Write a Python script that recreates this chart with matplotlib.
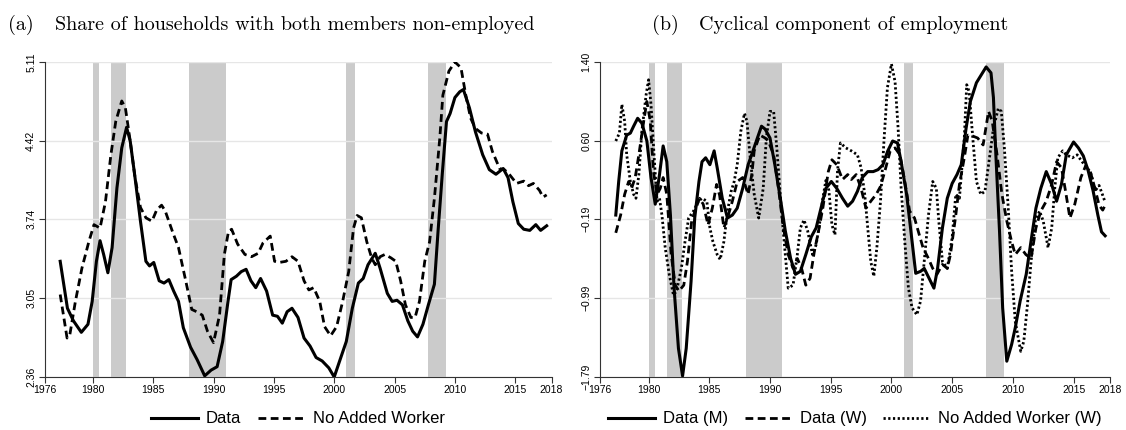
"""Household non-employment and cyclical employment, two panels."""
import numpy as np
import matplotlib
matplotlib.use('Agg')
import matplotlib.pyplot as plt

# ------------------------------------------------------------
# Data
# ------------------------------------------------------------
recessions = [(1980.0, 1980.5), (1981.5, 1982.75), (1988.0, 1991.0),
              (2001.0, 2001.75), (2007.75, 2009.25)]

# Panel (a): share of households with both members non-employed
a_data_year = [1977.3, 1977.9, 1978.4, 1979.05, 1979.6, 1979.95, 1980.3, 1980.6, 1980.9, 1981.25,
               1981.6, 1982.0, 1982.4, 1982.8, 1983.1, 1983.5, 1983.95, 1984.4, 1984.7, 1985.05,
               1985.5, 1985.9, 1986.3, 1986.7, 1987.1, 1987.5, 1988.1, 1988.65, 1989.27, 1989.8,
               1990.3, 1990.76, 1991.2, 1991.46, 1991.9, 1992.3, 1992.7, 1993.1, 1993.5, 1993.9,
               1994.4, 1994.9, 1995.3, 1995.7, 1996.1, 1996.5, 1997.0, 1997.5, 1998.0, 1998.5,
               1999.0, 1999.55, 2000.0, 2000.45, 2001.0, 2001.5, 2002.0, 2002.4, 2002.8, 2003.4,
               2003.8, 2004.4, 2004.8, 2005.2, 2005.65, 2006.1, 2006.5, 2006.9, 2007.35, 2007.8,
               2008.3, 2008.6, 2008.95, 2009.3, 2009.6, 2010.0, 2010.4, 2010.7, 2011.2, 2011.7,
               2012.3, 2012.85, 2013.4, 2014.0, 2014.4, 2014.8, 2015.25, 2015.7, 2016.2, 2016.7,
               2017.1, 2017.6]
a_data_val = [3.37, 2.96, 2.85, 2.75, 2.82, 3.02, 3.37, 3.55, 3.43, 3.27,
              3.49, 4.01, 4.36, 4.54, 4.42, 4.10, 3.72, 3.37, 3.33, 3.36,
              3.20, 3.18, 3.21, 3.11, 3.02, 2.79, 2.62, 2.51, 2.37, 2.42,
              2.45, 2.67, 3.02, 3.21, 3.24, 3.28, 3.30, 3.20, 3.14, 3.22,
              3.11, 2.90, 2.89, 2.83, 2.93, 2.96, 2.88, 2.70, 2.63, 2.53,
              2.50, 2.44, 2.36, 2.50, 2.67, 2.96, 3.18, 3.22, 3.34, 3.44,
              3.31, 3.09, 3.02, 3.03, 2.99, 2.85, 2.76, 2.71, 2.82, 2.99,
              3.17, 3.63, 4.13, 4.59, 4.66, 4.80, 4.85, 4.87, 4.71, 4.50,
              4.30, 4.17, 4.13, 4.18, 4.10, 3.89, 3.70, 3.65, 3.64, 3.69,
              3.64, 3.68]

a_naw_year = [1977.3, 1977.87, 1978.1, 1978.56, 1979.1, 1979.67, 1980.1, 1980.6, 1981.05, 1981.5,
              1981.9, 1982.4, 1982.7, 1983.1, 1983.5, 1983.95, 1984.4, 1984.9, 1985.3, 1985.7,
              1986.0, 1986.6, 1987.1, 1987.7, 1988.2, 1988.6, 1989.07, 1989.5, 1990.0, 1990.5,
              1990.9, 1991.24, 1991.5, 1992.0, 1992.6, 1993.15, 1993.7, 1994.1, 1994.7, 1995.06,
              1995.45, 1996.0, 1996.5, 1997.0, 1997.5, 1997.9, 1998.3, 1998.8, 1999.2, 1999.7,
              2000.2, 2000.7, 2001.2, 2001.6, 2001.9, 2002.25, 2002.7, 2003.1, 2003.4, 2003.8,
              2004.2, 2004.7, 2005.1, 2005.5, 2005.9, 2006.35, 2006.7, 2007.06, 2007.5, 2007.9,
              2008.3, 2008.75, 2009.0, 2009.5, 2010.0, 2010.5, 2010.9, 2011.3, 2011.7, 2012.2,
              2012.7, 2013.1, 2013.7, 2014.1, 2014.5, 2015.1, 2015.7, 2016.1, 2016.5, 2017.0,
              2017.3, 2017.6]
a_naw_val = [3.08, 2.70, 2.73, 3.02, 3.31, 3.54, 3.69, 3.66, 3.89, 4.30,
             4.59, 4.77, 4.71, 4.42, 4.10, 3.84, 3.75, 3.72, 3.82, 3.86,
             3.81, 3.63, 3.49, 3.20, 2.95, 2.93, 2.90, 2.76, 2.66, 2.90,
             3.43, 3.63, 3.65, 3.52, 3.43, 3.41, 3.44, 3.53, 3.59, 3.37,
             3.36, 3.37, 3.41, 3.37, 3.20, 3.12, 3.14, 3.02, 2.80, 2.72,
             2.80, 3.02, 3.28, 3.66, 3.77, 3.75, 3.54, 3.40, 3.34, 3.41,
             3.43, 3.40, 3.37, 3.20, 2.99, 2.88, 2.88, 3.02, 3.37, 3.54,
             3.92, 4.45, 4.82, 5.03, 5.11, 5.06, 4.82, 4.62, 4.53, 4.49,
             4.48, 4.33, 4.18, 4.17, 4.13, 4.05, 4.07, 4.03, 4.05, 3.99,
             3.93, 3.95]

# Panel (b): cyclical component of employment
b_m_year = [1977.3, 1977.54, 1977.8, 1978.2, 1978.5, 1978.77, 1979.1, 1979.45, 1979.86, 1980.2,
            1980.55, 1980.9, 1981.2, 1981.5, 1981.8, 1982.1, 1982.46, 1982.8, 1983.1, 1983.5,
            1983.8, 1984.15, 1984.4, 1984.7, 1985.05, 1985.4, 1985.65, 1986.07, 1986.5, 1986.9,
            1987.3, 1987.75, 1988.2, 1988.6, 1988.96, 1989.3, 1989.6, 1990.0, 1990.4, 1990.85,
            1991.26, 1991.7, 1992.1, 1992.5, 1992.95, 1993.4, 1993.8, 1994.2, 1994.6, 1995.05,
            1995.5, 1995.97, 1996.4, 1996.8, 1997.2, 1997.6, 1998.05, 1998.5, 1998.9, 1999.3,
            1999.7, 2000.1, 2000.5, 2000.8, 2001.25, 2001.6, 2002.0, 2002.4, 2002.7, 2003.1,
            2003.5, 2003.8, 2004.2, 2004.6, 2005.0, 2005.4, 2005.75, 2006.15, 2006.5, 2007.0,
            2007.4, 2007.8, 2008.2, 2008.4, 2008.6, 2008.9, 2009.16, 2009.5, 2009.9, 2010.2,
            2010.6, 2011.1, 2011.5, 2011.9, 2012.3, 2012.75, 2013.2, 2013.6, 2014.0, 2014.4,
            2015.0, 2015.4, 2015.8, 2016.2, 2016.6, 2017.0, 2017.3, 2017.6]
b_m_val = [-0.15, 0.19, 0.50, 0.66, 0.68, 0.75, 0.83, 0.78, 0.60, 0.23,
           -0.04, 0.26, 0.55, 0.39, -0.15, -0.89, -1.50, -1.78, -1.50, -0.82,
           -0.18, 0.19, 0.39, 0.43, 0.36, 0.50, 0.33, 0.02, -0.18, -0.15,
           -0.08, 0.12, 0.36, 0.50, 0.63, 0.75, 0.72, 0.63, 0.36, 0.02,
           -0.31, -0.59, -0.75, -0.72, -0.55, -0.37, -0.28, -0.08, 0.12, 0.19,
           0.12, 0.02, -0.06, -0.01, 0.09, 0.23, 0.29, 0.29, 0.31, 0.36,
           0.50, 0.60, 0.58, 0.39, 0.06, -0.31, -0.74, -0.72, -0.69, -0.79,
           -0.89, -0.69, -0.28, 0.02, 0.17, 0.26, 0.36, 0.73, 1.00, 1.19,
           1.27, 1.35, 1.29, 1.04, 0.46, -0.31, -1.09, -1.63, -1.46, -1.29,
           -1.02, -0.75, -0.41, -0.08, 0.12, 0.29, 0.16, -0.01, 0.16, 0.46,
           0.59, 0.53, 0.45, 0.30, 0.10, -0.15, -0.32, -0.36]

b_w_year = [1977.3, 1977.7, 1978.03, 1978.36, 1978.6, 1978.9, 1979.2, 1979.6, 1979.86, 1980.14,
            1980.4, 1980.7, 1980.96, 1981.2, 1981.5, 1981.86, 1982.2, 1982.5, 1982.9, 1983.2,
            1983.55, 1983.9, 1984.2, 1984.5, 1984.9, 1985.25, 1985.6, 1985.85, 1986.2, 1986.5,
            1986.9, 1987.3, 1987.75, 1988.2, 1988.5, 1988.7, 1989.16, 1989.6, 1989.86, 1990.3,
            1990.7, 1991.1, 1991.5, 1991.9, 1992.25, 1992.6, 1992.95, 1993.3, 1993.65, 1994.0,
            1994.35, 1994.8, 1995.1, 1995.5, 1995.97, 1996.4, 1996.7, 1997.1, 1997.5, 1997.9,
            1998.3, 1998.75, 1999.1, 1999.45, 1999.9, 2000.3, 2000.7, 2001.1, 2001.5, 2001.9,
            2002.2, 2002.6, 2003.05, 2003.4, 2003.75, 2004.2, 2004.6, 2004.86, 2005.3, 2005.6,
            2006.0, 2006.3, 2006.7, 2007.1, 2007.55, 2008.0, 2008.3, 2008.7, 2009.1, 2009.5,
            2009.9, 2010.2, 2010.65, 2011.07, 2011.5, 2011.9, 2012.3, 2012.75, 2013.2, 2013.6,
            2014.0, 2014.3, 2014.7, 2015.1, 2015.6, 2016.0, 2016.4, 2016.8, 2017.1, 2017.4,
            2017.6]
b_w_val = [-0.33, -0.15, 0.06, 0.19, 0.12, 0.23, 0.46, 0.80, 1.00, 0.80,
           0.29, 0.06, 0.12, 0.23, 0.06, -0.55, -0.86, -0.92, -0.86, -0.62,
           -0.21, -0.08, 0.02, -0.04, -0.25, -0.08, 0.16, 0.05, -0.28, -0.18,
           -0.01, 0.19, 0.23, 0.06, 0.26, 0.50, 0.66, 0.63, 0.60, 0.46,
           0.12, -0.28, -0.55, -0.69, -0.59, -0.69, -0.86, -0.79, -0.52, -0.31,
           -0.08, 0.29, 0.41, 0.36, 0.21, 0.26, 0.21, 0.26, 0.12, -0.08,
           -0.01, 0.06, 0.14, 0.29, 0.50, 0.53, 0.46, 0.19, -0.11, -0.18,
           -0.31, -0.48, -0.59, -0.69, -0.75, -0.65, -0.69, -0.55, -0.15, 0.16,
           0.43, 0.66, 0.65, 0.63, 0.56, 0.90, 0.80, 0.46, 0.06, -0.21,
           -0.42, -0.55, -0.48, -0.55, -0.59, -0.28, -0.11, -0.01, 0.16, 0.39,
           0.33, 0.12, -0.18, -0.04, 0.23, 0.35, 0.28, 0.10, -0.05, -0.10,
           -0.05]

b_naw_year = [1977.3, 1977.6, 1977.8, 1978.03, 1978.2, 1978.5, 1978.77, 1978.96, 1979.2, 1979.45,
              1979.8, 1980.0, 1980.2, 1980.5, 1980.7, 1980.9, 1981.1, 1981.37, 1981.7, 1982.05,
              1982.3, 1982.7, 1983.0, 1983.3, 1983.7, 1984.1, 1984.4, 1984.8, 1985.05, 1985.3,
              1985.65, 1985.9, 1986.2, 1986.5, 1986.8, 1987.05, 1987.3, 1987.6, 1987.9, 1988.1,
              1988.4, 1988.7, 1989.07, 1989.44, 1989.7, 1990.0, 1990.3, 1990.56, 1990.9, 1991.26,
              1991.5, 1991.9, 1992.25, 1992.5, 1992.8, 1993.1, 1993.5, 1993.8, 1994.07, 1994.35,
              1994.6, 1994.85, 1995.1, 1995.35, 1995.56, 1995.8, 1996.25, 1996.7, 1997.2, 1997.5,
              1997.8, 1998.05, 1998.3, 1998.55, 1998.8, 1999.1, 1999.4, 1999.67, 2000.0, 2000.3,
              2000.55, 2000.8, 2001.1, 2001.4, 2001.7, 2002.1, 2002.4, 2002.7, 2003.05, 2003.4,
              2003.7, 2003.9, 2004.2, 2004.6, 2005.0, 2005.3, 2005.6, 2006.0, 2006.2, 2006.4,
              2006.7, 2007.0, 2007.36, 2007.7, 2008.0, 2008.4, 2008.8, 2009.05, 2009.3, 2009.6,
              2009.9, 2010.2, 2010.65, 2010.9, 2011.2, 2011.5, 2011.85, 2012.2, 2012.5, 2012.9,
              2013.2, 2013.45, 2013.7, 2014.1, 2014.4, 2014.9, 2015.3, 2015.7, 2016.0, 2016.4,
              2016.8, 2017.1, 2017.4, 2017.6]
b_naw_val = [0.60, 0.68, 0.97, 0.80, 0.46, 0.19, 0.06, 0.02, 0.26, 0.70,
             1.07, 1.22, 0.97, 0.36, -0.01, 0.02, -0.15, -0.48, -0.75, -0.96,
             -0.92, -0.69, -0.42, -0.18, -0.11, -0.01, 0.02, -0.01, -0.28, -0.42,
             -0.55, -0.60, -0.42, -0.11, 0.09, 0.19, 0.36, 0.70, 0.88, 0.80,
             0.39, 0.06, -0.18, 0.12, 0.63, 0.90, 0.90, 0.53, -0.04, -0.55,
             -0.89, -0.86, -0.55, -0.28, -0.20, -0.31, -0.55, -0.45, -0.25, 0.02,
             0.20, 0.10, -0.25, -0.35, 0.30, 0.58, 0.53, 0.50, 0.46, 0.33,
             0.06, -0.28, -0.62, -0.77, -0.48, -0.01, 0.63, 1.14, 1.38, 1.20,
             0.73, 0.12, -0.42, -0.89, -1.09, -1.16, -1.02, -0.62, -0.15, 0.19,
             0.12, -0.21, -0.62, -0.69, -0.38, 0.06, 0.02, 0.63, 1.17, 1.10,
             0.63, 0.19, 0.06, 0.09, 0.36, 0.73, 0.93, 0.90, 0.53, -0.04,
             -0.72, -1.23, -1.53, -1.43, -1.06, -0.62, -0.21, -0.11, -0.21, -0.48,
             -0.28, 0.12, 0.43, 0.50, 0.46, 0.43, 0.46, 0.39, 0.35, 0.28,
             0.10, 0.15, 0.05, -0.02]

x_ticks = [1976, 1980, 1985, 1990, 1995, 2000, 2005, 2010, 2015, 2018]
a_yticks = [2.36, 3.05, 3.74, 4.42, 5.11]
a_yticklabels = ['2.36', '3.05', '3.74', '4.42', '5.11']
b_yticks = [-1.79, -0.99, -0.19, 0.60, 1.40]
b_yticklabels = ['\u22121.79', '\u22120.99', '\u22120.19', '0.60', '1.40']

# ------------------------------------------------------------
# Figure
# ------------------------------------------------------------
plt.rcParams['font.family'] = ['Liberation Sans', 'DejaVu Sans']
W, H = 1126, 430
fig = plt.figure(figsize=(W / 100, H / 100), dpi=100)

def px_axes(x0, x1, y0, y1):
    return fig.add_axes([x0 / W, 1 - y1 / H, (x1 - x0) / W, (y1 - y0) / H])

ax_a = px_axes(44.5, 551.5, 62, 377)
ax_b = px_axes(600, 1110, 62, 377)

solid_kw = dict(color='black', lw=2.2, solid_joinstyle='round')
dash_kw = dict(color='black', lw=2.0, linestyle=(0, (2.8, 1.6)))
dot_kw = dict(color='black', lw=2.0, linestyle=(0, (0.8, 0.9)))
legend_kw = dict(loc='center', bbox_to_anchor=(0.5, -0.133), frameon=False, fontsize=12,
                 handlelength=2.8, columnspacing=1.0, handletextpad=0.5, borderpad=0.2)


def style_axes(ax, yticks, ylabels):
    for lo, hi in recessions:
        ax.axvspan(lo, hi, color='#cbcbcb', lw=0, zorder=0)
    ax.set_xlim(1976, 2018)
    ax.set_ylim(yticks[0], yticks[-1])
    ax.set_xticks(x_ticks)
    ax.set_xticklabels([str(t) for t in x_ticks])
    ax.set_yticks(yticks)
    ax.set_yticklabels(ylabels, rotation=90, va='center')
    ax.tick_params(axis='both', labelsize=7.5, length=4, width=0.8, color='#333333', pad=2)
    ax.grid(True, axis='y', color='#e6e6e6', lw=1.0, zorder=0.5)
    ax.set_axisbelow(True)
    for side in ['top', 'right']:
        ax.spines[side].set_visible(False)
    for side in ['left', 'bottom']:
        ax.spines[side].set_color('#333333')
        ax.spines[side].set_linewidth(0.8)


# Panel (a)
style_axes(ax_a, a_yticks, a_yticklabels)
ax_a.plot(a_data_year, a_data_val, label='Data', **solid_kw)
ax_a.plot(a_naw_year, a_naw_val, label='No Added Worker', **dash_kw)
ax_a.legend(ncol=2, **legend_kw)

# Panel (b)
style_axes(ax_b, b_yticks, b_yticklabels)
ax_b.plot(b_m_year, b_m_val, label='Data (M)', **solid_kw)
ax_b.plot(b_w_year, b_w_val, label='Data (W)', **dash_kw)
ax_b.plot(b_naw_year, b_naw_val, label='No Added Worker (W)', **dot_kw)
ax_b.legend(ncol=3, **legend_kw)

# Titles (serif, LaTeX-like)
title_kw = dict(family='cmr10', fontsize=14.5, va='center')
fig.text(8 / W, 1 - 25 / H, '(a)', **title_kw)
fig.text(55 / W, 1 - 25 / H, 'Share of households with both members non-employed', **title_kw)
fig.text(652 / W, 1 - 25 / H, '(b)', **title_kw)
fig.text(699 / W, 1 - 25 / H, 'Cyclical component of employment', **title_kw)

fig.savefig('out.png', dpi=100)
